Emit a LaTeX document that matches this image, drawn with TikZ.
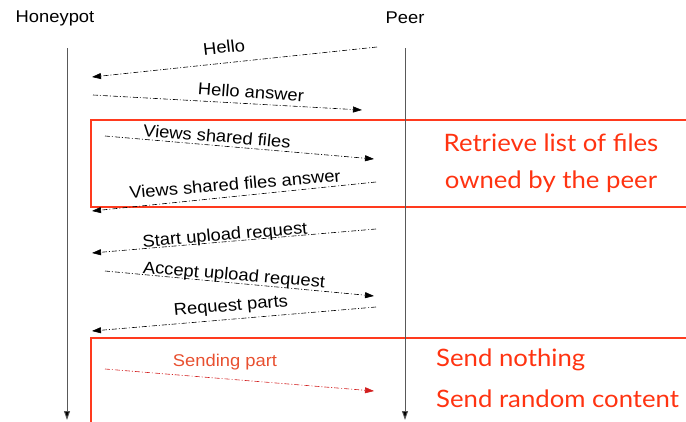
\documentclass[tikz,border=0pt]{standalone}
\usepackage{fontspec}
\setmainfont{Liberation Sans}
\newfontfamily\gillfont{Lato}
\usetikzlibrary{arrows.meta}
\definecolor{boxred}{RGB}{255,58,30}
\definecolor{notered}{RGB}{255,51,17}
\definecolor{sendred}{RGB}{232,80,48}
\definecolor{sendarrow}{RGB}{210,30,30}
\begin{document}
\begin{tikzpicture}[x=1pt,y=-1pt,
  msg/.style={draw=black, line width=0.6pt, dash pattern=on 5pt off 2pt on 1pt off 2pt,
    -{Triangle[length=9pt,width=6pt]}},
  lbl/.style={font=\fontsize{17}{17}\selectfont, inner sep=0pt, xscale=1.08},
  life/.style={draw=black!65, line width=0.9pt, -{Triangle[length=9pt,width=6pt,fill=black]}},
  redbox/.style={draw=boxred, line width=1.4pt},
  note/.style={font=\gillfont\fontsize{24}{24}\selectfont, text=notered, inner sep=0pt, xscale=1.072}
]
\useasboundingbox (0,0) rectangle (686,421);
\clip (0,0) rectangle (686,421);

% red frames
\draw[redbox] (700,120) -- (91,120) -- (91,207) -- (700,207);
\draw[redbox] (700,338) -- (91,338) -- (91,430);

% actors
\node[lbl] (hp) at (55,18) {Honeypot};
\node[lbl] (peer) at (405,18) {Peer};

% lifelines
\coordinate (hpTop) at (67,48);
\coordinate (hpBot) at (67,420);
\coordinate (peTop) at (405,48);
\coordinate (peBot) at (405,420);
\draw[life] (hpTop) -- (hpBot);
\draw[life] (peTop) -- (peBot);

% messages
\coordinate (m1s) at (377,47);  \coordinate (m1e) at (92,77);
\coordinate (m2s) at (93,95);   \coordinate (m2e) at (362,110);
\coordinate (m3s) at (105,136); \coordinate (m3e) at (374,159);
\coordinate (m4s) at (376,182); \coordinate (m4e) at (92,211);
\coordinate (m5s) at (376,229); \coordinate (m5e) at (92,253);
\coordinate (m6s) at (105,271); \coordinate (m6e) at (374,296);
\coordinate (m7s) at (376,307); \coordinate (m7e) at (92,331);
\coordinate (m8s) at (105,369); \coordinate (m8e) at (374,391);

\draw[msg] (m1s) -- (m1e);
\draw[msg] (m2s) -- (m2e);
\draw[msg] (m3s) -- (m3e);
\draw[msg] (m4s) -- (m4e);
\draw[msg] (m5s) -- (m5e);
\draw[msg] (m6s) -- (m6e);
\draw[msg] (m7s) -- (m7e);
\draw[msg, draw=sendarrow, -{Triangle[length=9pt,width=6pt,fill=sendarrow]}] (m8s) -- (m8e);

% message labels
\node[lbl, rotate=6] (l1) at (224,47) {Hello};
\node[lbl, rotate=-4] (l2) at (251,92) {Hello answer};
\node[lbl, rotate=-5] (l3) at (217,136) {Views shared files};
\node[lbl, rotate=5] (l4) at (235,184) {Views shared files answer};
\node[lbl, rotate=5] (l5) at (225,236) {Start upload request};
\node[lbl, rotate=-5] (l6) at (234,276) {Accept upload request};
\node[lbl, rotate=5] (l7) at (231,307) {Request parts};
\node[lbl, text=sendred] (l8) at (225,362) {Sending part};

% notes
\node[note] (n1) at (551,143) {Retrieve list of files};
\node[note] (n2) at (551,182) {owned by the peer};
\node[note, anchor=west] (n3) at (436,360) {Send nothing};
\node[note, anchor=west] (n4) at (436,399) {Send random content};
\end{tikzpicture}
\end{document}
